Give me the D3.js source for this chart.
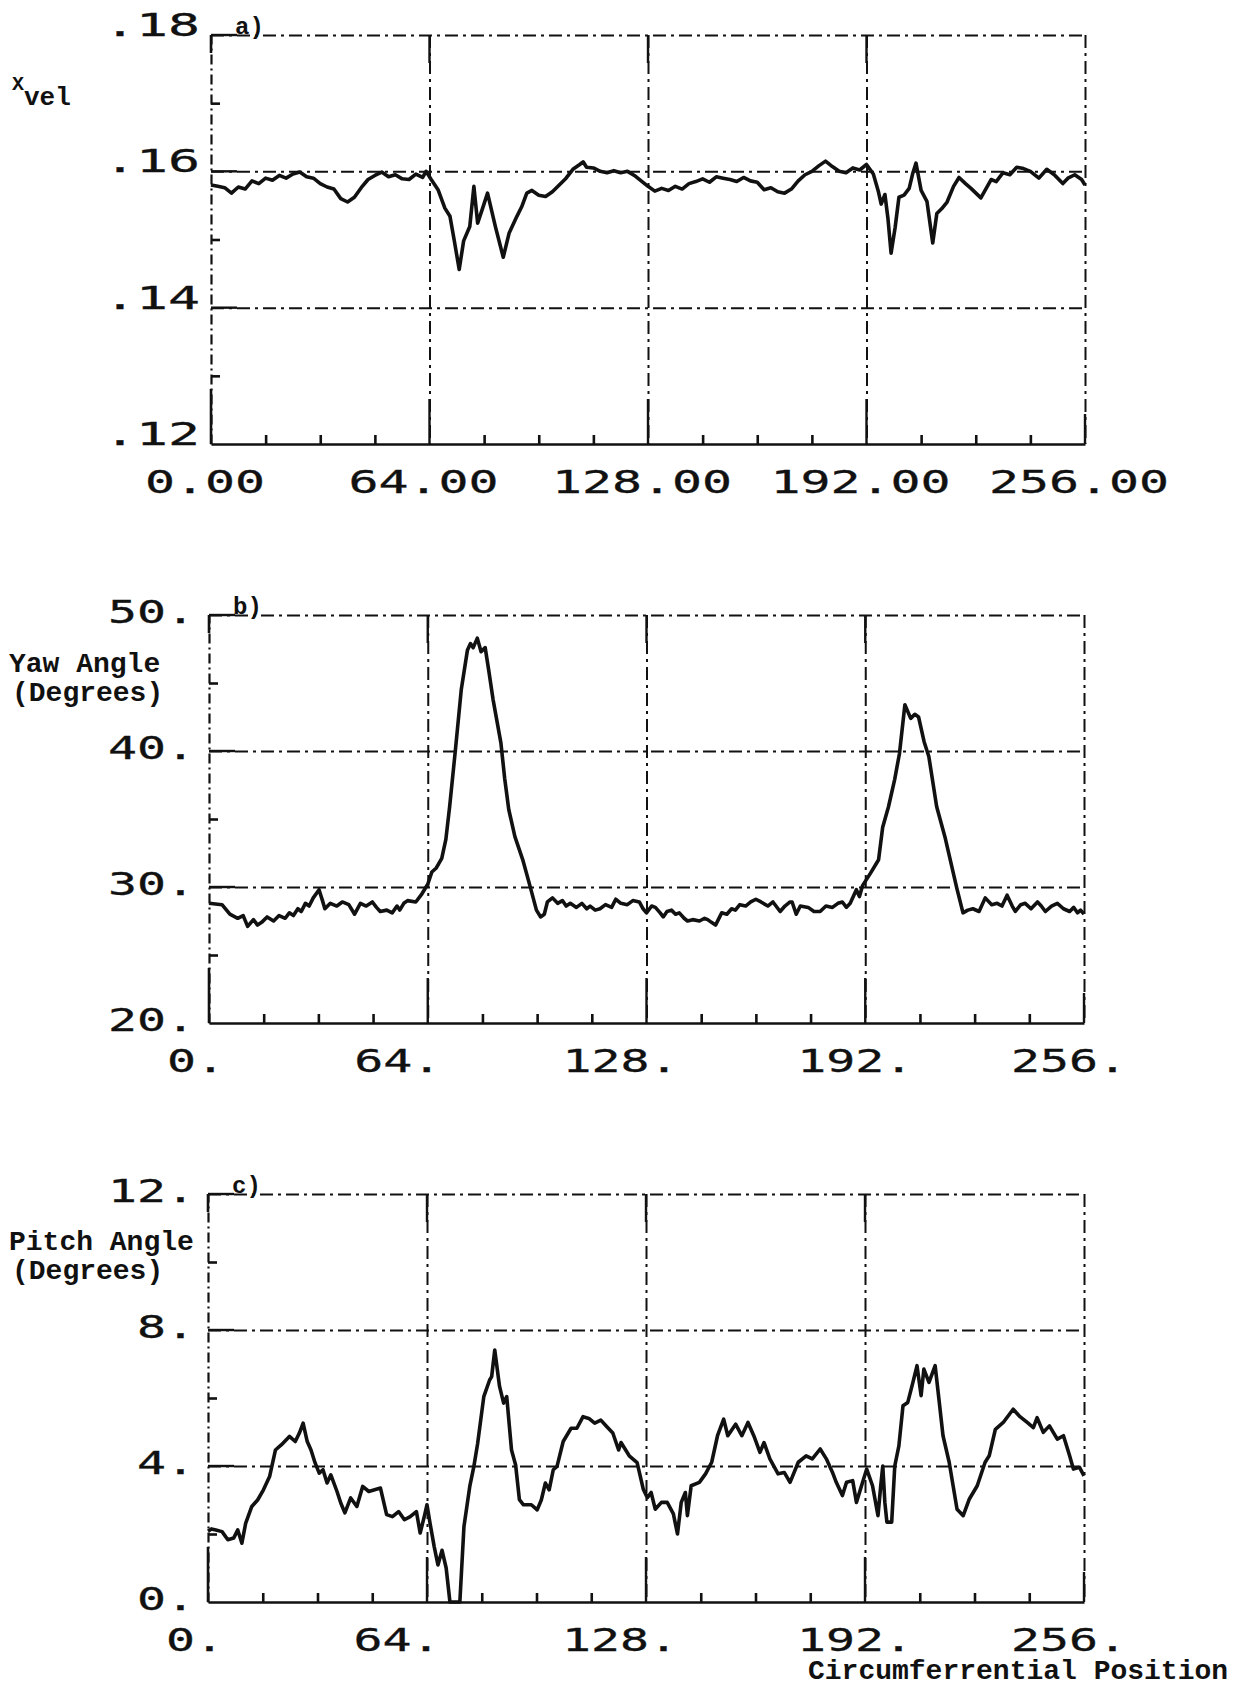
<!DOCTYPE html>
<html>
<head>
<meta charset="utf-8">
<script src="https://cdn.jsdelivr.net/npm/d3@7"></script>
<style>
  body { margin: 0; background: #fff; }
  svg { display: block; }
  .lbl { font-family: "DejaVu Sans Mono", monospace; font-size: 32px; fill: #111; stroke: #111; stroke-width: 0.3px; }
  .ttl { font-family: "Liberation Mono", "DejaVu Sans Mono", monospace; font-weight: bold; fill: #111; }
</style>
</head>
<body>
<svg id="fig"></svg>
<script>
// ---- data (circumferential position, value) ----
const xvelPos = [0,2,4,6,8,10,12,14,16,18,20,22,24,26,28,30,32,34,36,38,40,42,44,46,48,50,52,54,56,58,60,62,63,
  64.5,66.5,68.5,70,71.2,72.7,74,75.8,77,78.1,79.5,81,83.3,85.6,87.3,89.6,91,92.5,94,96,98,100,102,104,106,108,109,110,
  112,114,116,118,120,122,124,126,128,130,132,134,136,138,140,142,144,146,148,150,152,154,156,158,160,162,164,166,168,
  170,172,174,176,178,180,182,184,186,188,190,192,194,195.5,196.3,197.4,198.3,199.2,200.4,201.5,203,204.5,205.6,206.5,
  208,209.7,211.4,212.6,214,215.6,217.5,219.1,221,222.6,225.5,228.5,230,232,234,236,238,240,242.5,244.8,247,249.5,251,253,255,256];
const xvelVal = [.1580,.1578,.1576,.1568,.1577,.1574,.1586,.1582,.1590,.1587,.1594,.1590,.1596,.1599,.1592,.1590,.1582,.1577,
  .1574,.1560,.1555,.1562,.1576,.1588,.1594,.1599,.1592,.1595,.1589,.1588,.1596,.1591,.1600,
  .1588,.1573,.1546,.1534,.1500,.1456,.1498,.1519,.1578,.1524,.1545,.1568,.1519,.1474,.1509,.1534,.1548,.1568,.1572,.1565,
  .1563,.1570,.1580,.1590,.1603,.1610,.1614,.1606,
  .1605,.1600,.1598,.1601,.1598,.1600,.1594,.1586,.1578,.1571,.1575,.1572,.1578,.1574,.1582,.1585,.1589,.1584,.1592,.1590,
  .1588,.1585,.1591,.1586,.1584,.1573,.1576,.1570,.1568,
  .1574,.1586,.1595,.1600,.1608,.1615,.1607,.1600,.1598,.1605,.1602,.1610,.1596,.1570,.1552,.1566,.1530,.1480,.1518,.1562,
  .1565,.1575,.1598,.1612,
  .1572,.1556,.1495,.1538,.1545,.1555,.1578,.1591,.1582,.1575,.1561,.1588,.1585,.1598,.1595,.1606,.1604,.1600,.1590,.1603,
  .1595,.1582,.1590,.1595,.1588,.1580];

const yawPos = [0,3.8,6.1,8.4,10,11.3,13,14.2,15.4,17,18.9,20.5,22.3,23.5,24.7,26,27,28.2,29.3,30.5,32.2,33.2,33.9,35.5,
  37.4,39,40.9,42.6,44.3,46,47.8,49,50.1,52,53.6,55,55.8,57,58.1,60.5,62.3,64,65.2,66.5,68.1,69.3,70.4,72.1,73.8,75.6,
  76.5,77.3,78.5,79.6,80.8,81.8,83.1,85.4,86.5,87.7,89.5,91.8,94.1,95.8,97,98.1,99,100.5,102,103.4,104.5,105.7,107.5,
  109.1,110.5,111.5,113,114.4,116,117.8,119,120.5,122.4,124,125.9,127,128,129.5,130.6,132,132.9,134,135.3,136.5,137.6,
  139,140,141.5,143.5,145,145.9,147,148.2,150,151.5,152.9,154,155.3,157,158.5,160,161.5,163.5,165,167.1,168.5,170,
  170.6,171.8,173,175.3,177,178.8,180.5,182.4,184,185.3,186.5,187.6,189.4,190.3,191.2,193.5,195.9,197.1,198.8,200.6,
  202,203.6,205.3,206.5,207.6,209.2,210.6,212.9,215.3,218.8,220.6,222,223.5,225.3,227.1,229,230.6,232,233.5,235,235.9,
  237.5,238.8,240.5,242.4,243.5,244.7,246.5,248.2,250,251.8,253,254.1,255,256];
const yawVal = [28.8,28.7,28.0,27.7,27.9,27.1,27.6,27.2,27.4,27.8,27.5,27.9,27.7,28.1,27.9,28.4,28.2,28.8,28.6,29.2,
  29.8,29.0,28.4,28.8,28.6,28.9,28.7,28.0,28.8,28.6,28.9,28.5,28.2,28.3,28.1,28.6,28.3,28.8,29.0,28.9,29.5,30.2,31.1,
  31.4,32.1,33.5,35.9,40.1,44.5,47.4,47.9,47.6,48.3,47.3,47.6,46.0,43.8,40.6,38.0,35.7,33.7,32.0,29.9,28.3,27.8,28.0,
  28.9,29.2,28.8,29.0,28.6,28.8,28.5,28.8,28.4,28.6,28.3,28.4,28.7,28.5,29.1,28.8,28.7,29.0,28.9,28.4,28.1,28.6,28.5,
  28.1,27.8,28.2,28.3,28.0,28.1,27.7,27.5,27.6,27.5,27.7,27.6,27.4,27.2,28.1,28.0,28.4,28.3,28.7,28.6,28.9,29.1,28.9,
  28.6,28.9,28.2,28.6,28.9,28.9,28.0,28.6,28.5,28.2,28.2,28.6,28.5,28.8,28.9,28.5,28.8,29.8,29.3,30.1,31.0,32.0,34.4,
  35.9,37.9,39.8,43.4,42.4,42.7,42.5,40.7,39.6,35.9,33.7,29.9,28.1,28.3,28.4,28.2,29.2,28.7,28.8,28.6,29.4,28.6,28.2,
  28.7,28.8,28.4,28.9,28.6,28.2,28.6,28.8,28.4,28.2,28.5,28.1,28.3,28.0];

const pitchPos = [0,1,2.3,4.1,5.8,7.5,8.7,9.9,11,12.8,14.5,16.2,18,19.7,21.4,23.8,25.5,26.7,27.8,29,30.1,31.3,32.5,33.6,
  34.8,35.9,37.7,38.8,40,41.7,43.5,45.2,47,48.7,50.4,52.2,53.9,55.7,57.4,59.1,60.9,62,63.2,64,64.9,66.1,67.2,68.4,69.6,
  70.7,73.6,74.8,76.5,77.7,78.8,80.6,82.3,82.9,83.8,85.2,86.4,87.3,88.7,89.9,91,92.2,94.5,96.2,97.4,98.6,99.7,100.9,102,
  103.8,106.1,107.8,109.6,111.3,113,114.8,116.5,118.3,120,120.7,123.1,125.4,127.2,128.4,129.5,130.7,132.5,134.2,136,
  137.2,138.3,139.5,140.1,141.2,143.6,145.4,147.2,148.9,150.7,151.9,154.2,156,157.8,159.5,161.3,162.5,164.2,166.6,168.4,
  170.1,172.5,174.8,176.6,178.9,180.7,182.5,183.6,185.4,186.6,188.4,189.5,191.3,192.5,194.2,195.8,196.6,197.2,197.8,
  198.4,199.8,200.7,201.9,203.1,204.5,206,207.2,208.4,209.2,210.7,212.5,213.6,214.8,216.6,218.9,220.7,222.5,224.8,227.1,
  228.3,230.1,232.4,235.3,237.1,239.4,241.2,242.3,244.1,245.9,248.2,250,251.8,252.9,254.7,256];
const pitchVal = [2.08,2.15,2.12,2.07,1.83,1.88,2.12,1.73,2.31,2.81,3.0,3.3,3.69,4.47,4.62,4.87,4.72,4.97,5.26,4.72,4.47,
  4.09,3.79,3.89,3.5,3.74,3.25,2.91,2.62,3.06,2.81,3.4,3.25,3.3,3.35,2.57,2.51,2.66,2.42,2.51,2.66,2.03,2.51,2.86,2.31,
  1.63,1.09,1.52,1.0,0,0,2.22,3.4,3.99,4.66,6.04,6.53,6.63,7.41,6.34,5.85,6.04,4.47,4.03,3.01,2.86,2.86,2.71,3.0,3.5,
  3.3,3.89,3.99,4.72,5.11,5.11,5.45,5.4,5.26,5.35,5.16,4.97,4.47,4.69,4.3,4.1,3.32,3.07,3.22,2.73,2.93,2.93,2.59,2.0,
  2.93,3.22,2.54,3.42,3.52,3.77,4.11,4.89,5.38,4.89,5.23,4.89,5.28,4.89,4.4,4.69,4.21,3.77,3.81,3.52,4.11,4.3,4.21,4.5,
  4.21,3.81,3.52,3.13,3.52,3.57,2.93,3.52,3.91,3.42,2.54,3.42,4.0,2.93,2.35,2.35,4.0,4.59,5.77,5.87,6.46,6.95,6.07,6.85,
  6.46,6.95,5.97,4.89,4.11,2.73,2.54,3.03,3.42,4.11,4.3,5.08,5.28,5.67,5.47,5.28,5.13,5.42,4.99,5.18,4.79,4.89,4.3,
  3.91,3.96,3.71];

// ---- ticks and labels ----
const xTicks = [0, 64, 128, 192, 256];
const xMinor = [16, 32, 48, 80, 96, 112, 144, 160, 176, 208, 224, 240];
const xLabelsA = ["0.00", "64.00", "128.00", "192.00", "256.00"];
const xLabelsBC = ["0.", "64.", "128.", "192.", "256."];
const yTicksA = [0.12, 0.14, 0.16, 0.18], yLabelsA = [".12", ".14", ".16", ".18"], yMinorA = [0.13, 0.15, 0.17];
const yTicksB = [20, 30, 40, 50], yLabelsB = ["20.", "30.", "40.", "50."], yMinorB = [25, 35, 45];
const yTicksC = [0, 4, 8, 12], yLabelsC = ["0.", "4.", "8.", "12."], yMinorC = [2, 6, 10];

const W = 1246, H = 1686;
const ink = "#111";
const dashDot = "13,5,3,5";

const svg = d3.select("#fig").attr("width", W).attr("height", H);
svg.append("rect").attr("width", W).attr("height", H).attr("fill", "#fff");

const panels = [
  {tag: "a)", left: 211, right: 1085, top: 35, bottom: 444, pos: xvelPos, val: xvelVal,
   yTicks: yTicksA, yLabels: yLabelsA, yMinor: yMinorA, xLabels: xLabelsA,
   xCell: 30, xOff: [-6, -6, -6, -6, -6], yCell: 32, yEnd: 200, yDy: 1},
  {tag: "b)", left: 209, right: 1084, top: 615, bottom: 1023, pos: yawPos, val: yawVal,
   yTicks: yTicksB, yLabels: yLabelsB, yMinor: yMinorB, xLabels: xLabelsBC,
   xCell: 29, xOff: [-13, -30, -26, -10, -15], yCell: 29, yEnd: 195, yDy: 8},
  {tag: "c)", left: 208, right: 1084, top: 1194, bottom: 1602, pos: pitchPos, val: pitchVal,
   yTicks: yTicksC, yLabels: yLabelsC, yMinor: yMinorC, xLabels: xLabelsBC,
   xCell: 29, xOff: [-13, -30, -26, -10, -15], yCell: 29, yEnd: 195, yDy: 8}
];

panels.forEach(drawPanel);

function drawPanel(p) {
  const ext = d3.extent(p.yTicks);
  const x = d3.scaleLinear().domain([0, 256]).range([p.left, p.right]);
  const y = d3.scaleLinear().domain(ext).range([p.bottom, p.top]);
  const g = svg.append("g");
  const w = p.right - p.left, h = p.bottom - p.top;

  // horizontal grid + top border (dash-dot)
  const hGrid = p.yTicks.slice(1);
  g.append("g")
    .attr("transform", `translate(${p.left},0)`)
    .call(d3.axisRight(y).tickValues(hGrid).tickSize(w).tickFormat(""))
    .call(s => s.select(".domain").remove())
    .call(s => s.selectAll("line").attr("stroke", ink).attr("stroke-width", 2).attr("stroke-dasharray", dashDot));

  // vertical grid + right border (dash-dot)
  const vGrid = xTicks.slice(1);
  g.append("g")
    .attr("transform", `translate(0,${p.top})`)
    .call(d3.axisBottom(x).tickValues(vGrid).tickSize(h).tickFormat(""))
    .call(s => s.select(".domain").remove())
    .call(s => s.selectAll("line").attr("stroke", ink).attr("stroke-width", 2).attr("stroke-dasharray", dashDot));

  // solid pen segments at the ends of grid lines
  g.selectAll(".vs1").data(vGrid).join("line")
    .attr("x1", d => x(d)).attr("x2", d => x(d))
    .attr("y1", p.bottom).attr("y2", d => p.bottom - (d === 256 ? 30 : 45))
    .attr("stroke", ink).attr("stroke-width", 2.4);
  g.selectAll(".vs2").data(vGrid.slice(0, 3)).join("line")
    .attr("x1", d => x(d)).attr("x2", d => x(d))
    .attr("y1", p.top).attr("y2", p.top + 28)
    .attr("stroke", ink).attr("stroke-width", 2.4);
  g.selectAll(".hs").data(hGrid).join("line")
    .attr("x1", p.left).attr("x2", p.left + 26)
    .attr("y1", d => y(d)).attr("y2", d => y(d))
    .attr("stroke", ink).attr("stroke-width", 2.4);

  // left axis with minor ticks
  g.append("g")
    .attr("transform", `translate(${p.left},0)`)
    .call(d3.axisLeft(y).tickValues(p.yMinor).tickSize(-9).tickSizeOuter(0).tickFormat(""))
    .call(s => s.select(".domain").attr("stroke", ink).attr("stroke-width", 2.2).attr("stroke-dasharray", "10,4,2,4"))
    .call(s => s.selectAll("line").attr("stroke", ink).attr("stroke-width", 2.6));
  g.append("line")
    .attr("x1", p.left).attr("x2", p.left)
    .attr("y1", p.bottom).attr("y2", p.bottom - 55)
    .attr("stroke", ink).attr("stroke-width", 2.6);
  g.append("line")
    .attr("x1", p.left).attr("x2", p.left)
    .attr("y1", p.top).attr("y2", p.top + 18)
    .attr("stroke", ink).attr("stroke-width", 2.6);

  // bottom axis with minor ticks
  g.append("g")
    .attr("transform", `translate(0,${p.bottom})`)
    .call(d3.axisBottom(x).tickValues(xMinor).tickSize(-9).tickSizeOuter(0).tickFormat(""))
    .call(s => s.select(".domain").attr("stroke", ink).attr("stroke-width", 2.6))
    .call(s => s.selectAll("line").attr("stroke", ink).attr("stroke-width", 2.6));

  // data trace
  const line = d3.line().x(d => x(d[0])).y(d => y(d[1]));
  g.append("path")
    .datum(d3.zip(p.pos, p.val))
    .attr("d", line)
    .attr("fill", "none")
    .attr("stroke", ink)
    .attr("stroke-width", 3.6)
    .attr("stroke-linejoin", "round");

  // tick labels (wide plotter-style characters)
  g.selectAll(".xl").data(xTicks).join("text")
    .attr("class", "lbl")
    .attr("x", (d, i) => x(d) + p.xOff[i])
    .attr("y", p.bottom + 49)
    .attr("text-anchor", "middle")
    .attr("textLength", (d, i) => p.xLabels[i].length * p.xCell)
    .attr("lengthAdjust", "spacingAndGlyphs")
    .text((d, i) => p.xLabels[i]);

  g.selectAll(".yl").data(p.yTicks).join("text")
    .attr("class", "lbl")
    .attr("x", p.yEnd)
    .attr("y", d => y(d) + p.yDy)
    .attr("text-anchor", "end")
    .attr("textLength", (d, i) => p.yLabels[i].length * p.yCell)
    .attr("lengthAdjust", "spacingAndGlyphs")
    .text((d, i) => p.yLabels[i]);

  // panel tag
  g.append("text")
    .attr("class", "ttl")
    .attr("x", p.left + 24)
    .attr("y", p.top - 1)
    .attr("font-size", 24)
    .text(p.tag);
}

// axis titles
const xv = svg.append("text").attr("class", "ttl").attr("x", 12).attr("y", 90);
xv.append("tspan").attr("font-size", 20).text("X");
xv.append("tspan").attr("font-size", 26).attr("dy", 15).text("vel");

svg.append("text").attr("class", "ttl").attr("x", 9).attr("y", 672).attr("font-size", 28).text("Yaw Angle");
svg.append("text").attr("class", "ttl").attr("x", 12).attr("y", 701).attr("font-size", 28).text("(Degrees)");
svg.append("text").attr("class", "ttl").attr("x", 9).attr("y", 1250).attr("font-size", 28).text("Pitch Angle");
svg.append("text").attr("class", "ttl").attr("x", 12).attr("y", 1279).attr("font-size", 28).text("(Degrees)");
svg.append("text").attr("class", "ttl").attr("x", 808).attr("y", 1679).attr("font-size", 28)
  .text("Circumferrential Position");
</script>
</body>
</html>
